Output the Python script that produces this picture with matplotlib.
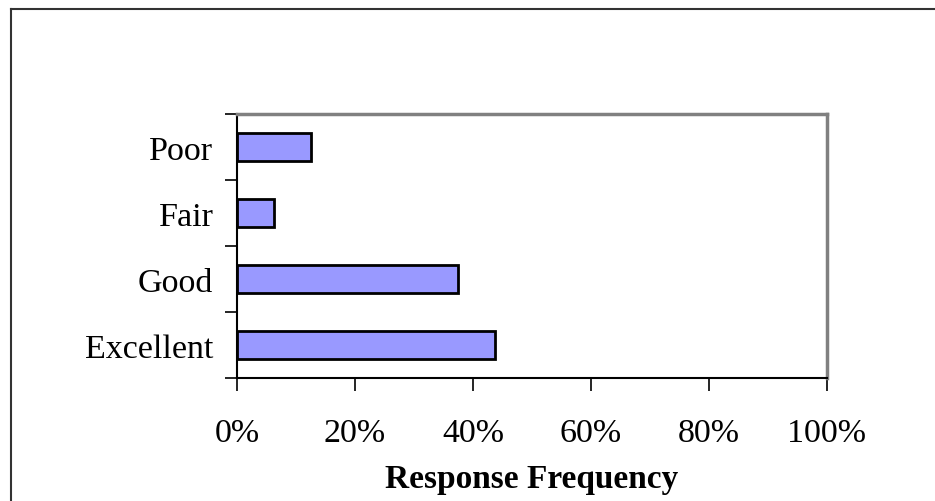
import matplotlib.pyplot as plt
from matplotlib.lines import Line2D
from matplotlib.ticker import PercentFormatter

# data
categories = ["Excellent", "Good", "Fair", "Poor"]
freq = [43.75, 37.5, 6.25, 12.5]
xticks = [0, 20, 40, 60, 80, 100]

plt.rcParams['font.family'] = ['Liberation Serif', 'DejaVu Serif']

fig = plt.figure(figsize=(9.35, 5.02), dpi=100, facecolor='white')
ax = fig.add_axes([237 / 935, 1 - 379 / 502, 590 / 935, 264 / 502])

pos = list(range(len(categories)))
ax.barh(pos, freq, height=0.41, color='#9999FF', edgecolor='black', linewidth=2)

ax.set_xlim(0, 100)
ax.set_ylim(-0.5, len(categories) - 0.5)
ax.set_xticks(xticks)
ax.xaxis.set_major_formatter(PercentFormatter(decimals=0))
ax.set_yticks(pos)
ax.set_yticklabels(categories)
# ticks between categories, like the spreadsheet chart
ax.set_yticks([p - 0.5 for p in range(len(categories) + 1)], minor=True)
ax.tick_params(axis='y', which='major', length=0, pad=17, labelsize=24.5)
ax.tick_params(axis='y', which='minor', length=9, width=1.2, direction='out')
ax.tick_params(axis='x', length=9, width=1.2, direction='out', pad=19.5, labelsize=24.5)

for s in ['left', 'bottom']:
    ax.spines[s].set_color('black')
    ax.spines[s].set_linewidth(1.5)
for s in ['top', 'right']:
    ax.spines[s].set_color('#808080')
    ax.spines[s].set_linewidth(2.5)

fig.text(532 / 935, 1 - 488 / 502, 'Response Frequency', ha='center', va='baseline',
         fontsize=24, fontweight='bold')

# outer chart border (only left/top visible)
fig.add_artist(Line2D([11 / 935, 11 / 935], [0, 1 - 10 / 502], transform=fig.transFigure,
                      color='#333333', linewidth=1.5))
fig.add_artist(Line2D([11 / 935, 1], [1 - 10 / 502, 1 - 10 / 502], transform=fig.transFigure,
                      color='#333333', linewidth=1.5))

plt.savefig('out.png', dpi=100)
